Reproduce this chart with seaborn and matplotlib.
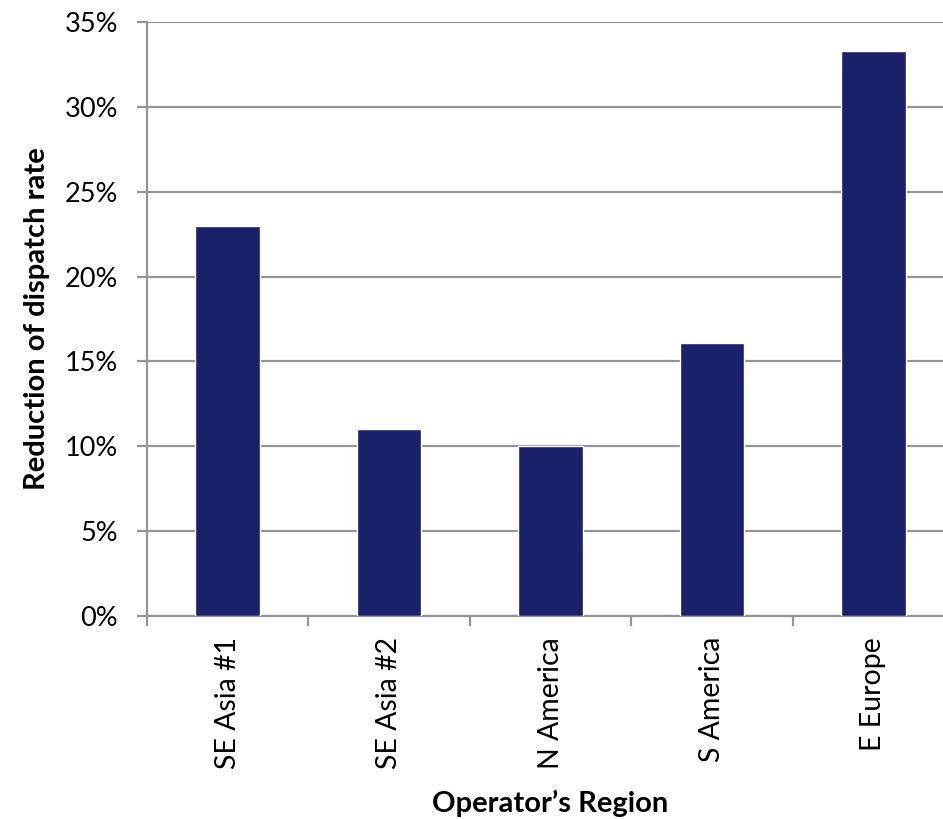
import matplotlib
matplotlib.use("Agg")
import matplotlib.pyplot as plt
from matplotlib.ticker import FuncFormatter, FixedLocator
import seaborn as sns
import pandas as pd

regions = ["SE Asia #1", "SE Asia #2", "N America", "S America", "E Europe"]
reduction_pct = [23.0, 11.0, 10.0, 16.1, 33.3]
y_ticks = [0, 5, 10, 15, 20, 25, 30, 35]

df = pd.DataFrame({"region": regions, "reduction": reduction_pct})

sns.set_theme(style="white")
plt.rcParams["font.family"] = ["Lato", "DejaVu Sans"]
plt.rcParams["text.color"] = "black"
plt.rcParams["axes.labelcolor"] = "black"

grid_color = "#959595"
bar_color = "#1a216b"

fig = plt.figure(figsize=(9.43, 8.19), dpi=100)
ax = fig.add_axes([0.1559, 0.2479, 0.8558, 0.7252])

sns.barplot(data=df, x="region", y="reduction", color=bar_color,
            width=0.4, saturation=1, ax=ax, zorder=3)

ax.set_ylim(0, 35)
ax.set_xlim(-0.5, len(regions) - 0.5)
ax.yaxis.set_major_locator(FixedLocator(y_ticks))
ax.yaxis.set_major_formatter(FuncFormatter(lambda v, _: f"{v:.0f}%"))
ax.grid(axis="y", color=grid_color, linewidth=1.6, zorder=0)
ax.set_axisbelow(True)

for side in ["top", "right"]:
    ax.spines[side].set_visible(False)
for side in ["left", "bottom"]:
    ax.spines[side].set_color(grid_color)
    ax.spines[side].set_linewidth(1.6)

ax.tick_params(axis="y", which="major", direction="out", length=7,
               width=1.6, color=grid_color, labelsize=19.5, pad=14,
               left=True, labelcolor="black")
ax.tick_params(axis="x", which="major", length=0, labelsize=20.5, pad=15,
               labelrotation=90, labelcolor="black")
ax.set_xticks([i - 0.5 for i in range(len(regions) + 1)], minor=True)
ax.tick_params(axis="x", which="minor", direction="out", length=7,
               width=1.6, color=grid_color, bottom=True)

ax.set_xlabel("Operator\u2019s Region", fontsize=21, fontweight="bold",
              color="black")
ax.set_ylabel("Reduction of dispatch rate", fontsize=21, fontweight="bold",
              color="black")
ax.yaxis.set_label_coords(-0.12, 0.5)
ax.xaxis.set_label_coords(0.4995, -0.293)

fig.savefig("out.png", dpi=100)
